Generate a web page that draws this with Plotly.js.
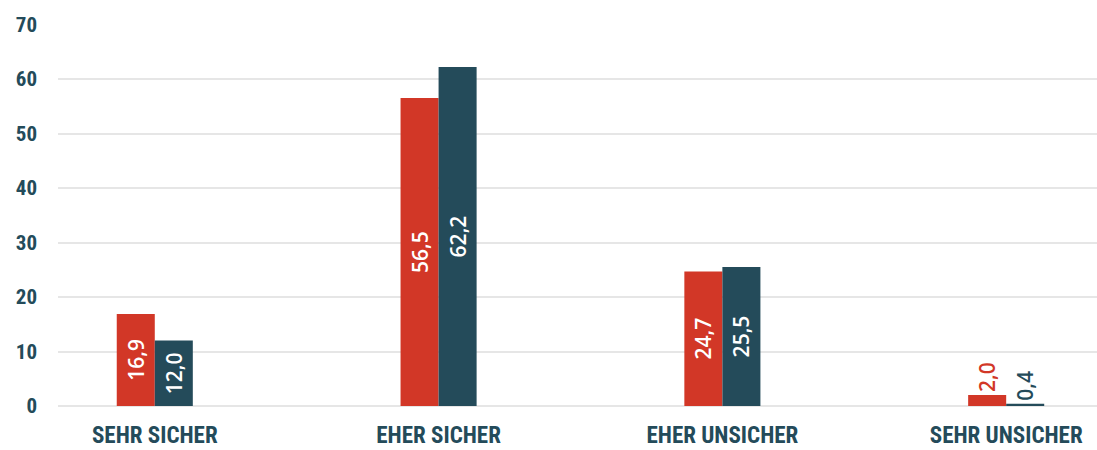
<!DOCTYPE html>
<html>
<head>
<meta charset="utf-8">
<script src="https://cdn.plot.ly/plotly-3.0.1.min.js"></script>
<style>html,body{margin:0;padding:0;background:#fff;}#chart{width:1097px;height:450px;}</style>
</head>
<body>
<div id="chart"></div>
<script>
const categories = ["SEHR SICHER", "EHER SICHER", "EHER UNSICHER", "SEHR UNSICHER"];
const seriesA = [16.9, 56.5, 24.7, 2.0];
const seriesB = [12.0, 62.2, 25.5, 0.4];
const yTicks = [0, 10, 20, 30, 40, 50, 60, 70];

const RED = "#d23727";
const DARK = "#244b5a";
const CONDENSED = "Roboto Condensed, Liberation Sans Narrow, DejaVu Sans Condensed, sans-serif";

function positions(vals) {
  return vals.map(v => v < 5 ? "outside" : "inside");
}

function trace(vals, color) {
  return {
    type: "bar",
    x: categories,
    y: vals,
    marker: {color: color},
    texttemplate: "%{y:.1f}",
    textposition: positions(vals),
    textangle: -90,
    insidetextanchor: "middle",
    insidetextfont: {color: "#ffffff", size: 21, family: "Open Sans, sans-serif", weight: 600},
    outsidetextfont: {color: color, size: 21, family: "Open Sans, sans-serif", weight: 600},
    constraintext: "none",
    cliponaxis: false,
    hoverinfo: "skip"
  };
}

const data = [trace(seriesA, RED), trace(seriesB, DARK)];

const layout = {
  width: 1097,
  height: 450,
  margin: {l: 58, r: 0, t: 24, b: 44},
  paper_bgcolor: "#ffffff",
  plot_bgcolor: "#ffffff",
  separators: ",.",
  showlegend: false,
  barmode: "group",
  bargap: 0.732,
  bargroupgap: 0,
  xaxis: {
    type: "category",
    range: [-0.341, 3.32],
    showgrid: false,
    showline: false,
    ticks: "",
    ticklabelstandoff: 13,
    tickfont: {family: CONDENSED, size: 23, color: DARK, weight: "bold"}
  },
  yaxis: {
    range: [0, 70.1],
    tickvals: yTicks,
    showgrid: true,
    gridcolor: "#e6e6e6",
    gridwidth: 2,
    zeroline: true,
    zerolinecolor: "#e6e6e6",
    zerolinewidth: 2,
    showline: false,
    ticks: "",
    ticklabelstandoff: 20,
    tickfont: {family: CONDENSED, size: 21, color: DARK, weight: "bold"}
  }
};

Plotly.newPlot("chart", data, layout, {staticPlot: true, displayModeBar: false});
</script>
</body>
</html>
